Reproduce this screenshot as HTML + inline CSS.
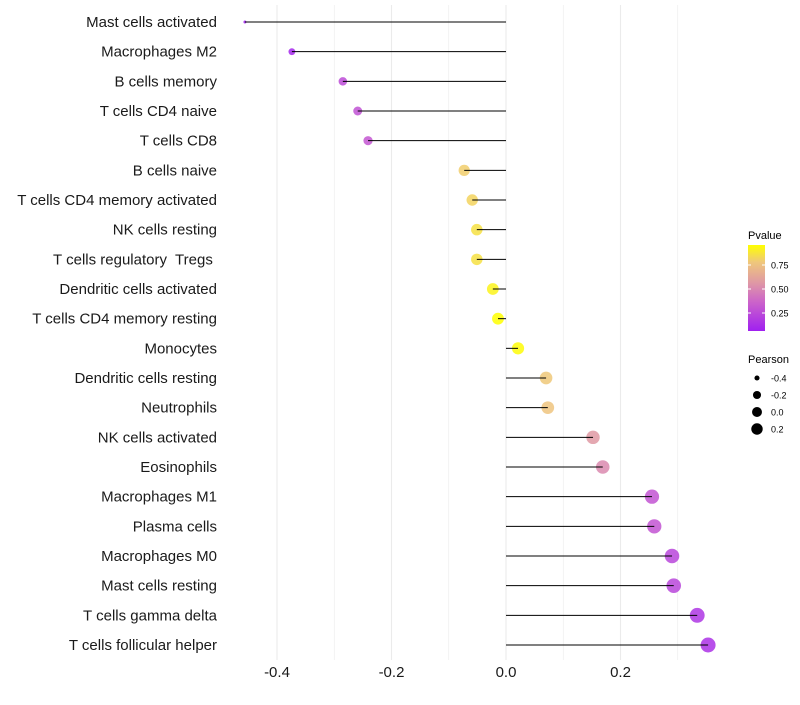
<!DOCTYPE html>
<html><head><meta charset="utf-8"><style>
body{margin:0;background:#fff;}
svg text{font-family:"Liberation Sans",sans-serif;white-space:pre;}
</style></head><body>
<svg id="chart" width="800" height="700" xmlns="http://www.w3.org/2000/svg">
<defs><linearGradient id="pg" x1="0" y1="1" x2="0" y2="0">
<stop offset="0" stop-color="#a020f0"/><stop offset="0.35" stop-color="#cd66c8"/><stop offset="0.55" stop-color="#de96a6"/><stop offset="0.8" stop-color="#efc77c"/><stop offset="1" stop-color="#ffff00"/>
</linearGradient></defs>
<g id="grid"></g><g id="dots"></g><g id="marks"></g><g id="ylabels"></g><g id="xlabels"></g>
<g>
<text x="748" y="239" font-size="11">Pvalue</text>
<rect x="748" y="245" width="17" height="86" fill="url(#pg)"/>
<g id="cticks"></g>
</g>
<g>
<text x="748" y="363" font-size="11">Pearson</text>
<g id="sleg"></g>
</g>
</svg>
<script>
const categories=["Mast cells activated","Macrophages M2","B cells memory","T cells CD4 naive","T cells CD8","B cells naive","T cells CD4 memory activated","NK cells resting","T cells regulatory  Tregs ","Dendritic cells activated","T cells CD4 memory resting","Monocytes","Dendritic cells resting","Neutrophils","NK cells activated","Eosinophils","Macrophages M1","Plasma cells","Macrophages M0","Mast cells resting","T cells gamma delta","T cells follicular helper"];
const pearson=[-0.456,-0.374,-0.285,-0.259,-0.241,-0.073,-0.059,-0.051,-0.051,-0.023,-0.014,0.021,0.070,0.073,0.152,0.169,0.255,0.259,0.290,0.293,0.334,0.353];
const pvalue=[0.04,0.07,0.24,0.27,0.29,0.8,0.82,0.86,0.86,0.92,0.97,0.95,0.78,0.76,0.56,0.5,0.28,0.28,0.22,0.22,0.14,0.12];
const xTicks=[-0.4,-0.2,0.0,0.2];
const xTickLabels=["-0.4","-0.2","0.0","0.2"];
const cTicks=[0.25,0.5,0.75];
const sizeTicks=[-0.4,-0.2,0.0,0.2];

const NS="http://www.w3.org/2000/svg";
function mk(t,a,p){const e=document.createElementNS(NS,t);for(const k in a)e.setAttribute(k,a[k]);p.appendChild(e);return e;}
const x=v=>506+v*572.5;
const y=i=>22+i*29.667;
const r=v=>1.5+6*Math.sqrt(Math.max(0,v+0.456)/0.81);
const stops=[[0,[160,32,240]],[0.35,[205,102,200]],[0.55,[222,150,166]],[0.8,[239,199,124]],[1,[255,255,0]]];
function col(p){let t=(p-0.04)/0.92;t=Math.max(0,Math.min(1,t));
for(let i=1;i<stops.length;i++){if(t<=stops[i][0]){const a=stops[i-1],b=stops[i];const f=(t-a[0])/(b[0]-a[0]);
return "rgb("+a[1].map((c,j)=>Math.round(c+(b[1][j]-c)*f)).join(",")+")";}}return "rgb(255,255,0)";}
const grid=document.getElementById('grid');
for(let v=-0.4;v<=0.31;v+=0.1){const g=mk('line',{x1:x(v),x2:x(v),y1:5,y2:660,stroke:'#ebebeb','stroke-width':Math.abs(Math.round(v*10))%2==0?1.1:0.6},grid);

}
const dots=document.getElementById('dots'),marks=document.getElementById('marks'),yl=document.getElementById('ylabels'),xl=document.getElementById('xlabels');
categories.forEach((c,i)=>{
 const d=mk('circle',{cx:x(pearson[i]),cy:y(i),r:r(pearson[i]),fill:col(pvalue[i]),'fill-opacity':0.85},dots);
 
 
 const l=mk('line',{x1:x(0),x2:x(pearson[i]),y1:y(i),y2:y(i),stroke:'#000','stroke-width':1},marks);
 
 
 const t=mk('text',{x:217,y:y(i)+5,'text-anchor':'end','font-size':15,fill:'#1a1a1a'},yl);t.textContent=c;
 
 
});
xTicks.forEach((v,i)=>{const t=mk('text',{x:x(v),y:677,'text-anchor':'middle','font-size':15,fill:'#1a1a1a'},xl);t.textContent=xTickLabels[i];
 
 });
const ct=document.getElementById('cticks');
cTicks.forEach(v=>{const yy=337-v*96;mk('line',{x1:748,x2:751,y1:yy,y2:yy,stroke:'#fff'},ct);mk('line',{x1:762,x2:765,y1:yy,y2:yy,stroke:'#fff'},ct);
 const t=mk('text',{x:771,y:yy+3.5,'font-size':9},ct);t.textContent=v.toFixed(2);
 
 });
const sl=document.getElementById('sleg');
sizeTicks.forEach((v,i)=>{const yy=378+i*17;const c=mk('circle',{cx:757,cy:yy,r:r(v)*0.83},sl);
 
 
 const t=mk('text',{x:771,y:yy+3.5,'font-size':9},sl);t.textContent=v.toFixed(1);
 
 });
</script>
</body></html>
